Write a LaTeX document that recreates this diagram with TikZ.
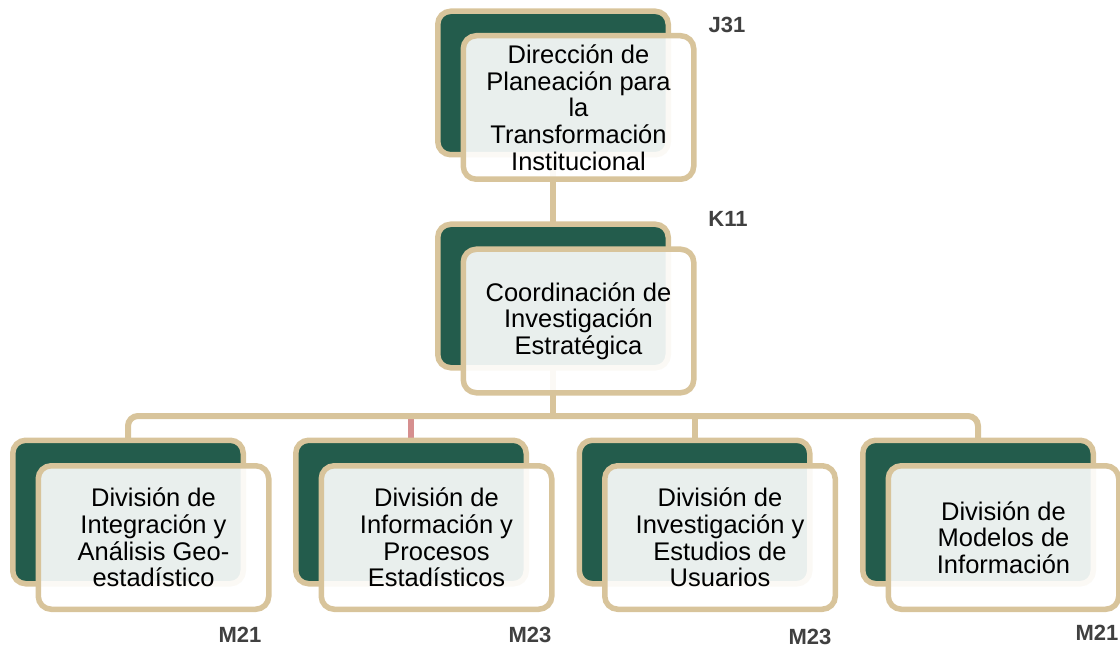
\documentclass[tikz,border=0pt]{standalone}
\usepackage{fontspec}
\setmainfont{Liberation Sans}
\definecolor{tan}{RGB}{216,196,155}
\definecolor{dgreen}{RGB}{35,92,76}
\definecolor{pinkln}{RGB}{214,143,143}
\definecolor{lblgrey}{RGB}{64,64,64}
\begin{document}
\begin{tikzpicture}[x=1pt,y=-1pt,
  backbox/.style={draw=tan,line width=5.5pt,fill=dgreen,rounded corners=13pt,
    minimum width=230.5pt,minimum height=143.5pt,inner sep=0pt},
  frontbox/.style={draw=tan,line width=5.5pt,fill=white,fill opacity=0.9,text opacity=1,
    rounded corners=13pt,minimum width=230.5pt,minimum height=143.5pt,inner sep=0pt,
    align=center,font=\fontsize{25.5}{26.7}\selectfont},
  conn/.style={draw=tan,line width=6pt},
  pinkconn/.style={draw=pinkln,line width=6pt},
  codelbl/.style={font=\bfseries\fontsize{22}{24}\selectfont,text=lblgrey,inner sep=0pt}]
\useasboundingbox (0,0) rectangle (1120,647);
% back-box anchors (named, drawn later)
\coordinate (tb) at (553,83);
\coordinate (kb) at (553,296);
\coordinate (bar) at (553,416);
\coordinate (d1c) at (128,512);
\coordinate (d2c) at (411,512);
\coordinate (d3c) at (694.5,512);
\coordinate (d4c) at (978,512);
% connectors
\draw[conn] (tb) -- (kb);
\draw[conn] (kb) -- (bar);
\draw[pinkconn] (d2c) -- (d2c |- bar);
\draw[conn] (d3c) -- (d3c |- bar);
\draw[conn,rounded corners=10pt] (d1c) |- (bar) -| (d4c);
% top unit
\node[backbox] (topb) at (tb) {};
\node[frontbox] (topf) at (578.5,107.5) {Dirección de\\Planeación para\\la\\Transformación\\Institucional};
% K11 unit
\node[backbox] (k11b) at (kb) {};
\node[frontbox] (k11f) at (578.5,321) {Coordinación de\\Investigación\\Estratégica};
% bottom units
\node[backbox] (d1b) at (d1c) {};
\node[frontbox] (d1f) at (153.5,537.5) {División de\\Integración y\\Análisis Geo-\\estadístico};
\node[backbox] (d2b) at (d2c) {};
\node[frontbox] (d2f) at (436.5,537.5) {División de\\Información y\\Procesos\\Estadísticos};
\node[backbox] (d3b) at (d3c) {};
\node[frontbox] (d3f) at (720,537.5) {División de\\Investigación y\\Estudios de\\Usuarios};
\node[backbox] (d4b) at (d4c) {};
\node[frontbox] (d4f) at (1003.5,537.5) {División de\\Modelos de\\Información};
% codes
\node[codelbl] (j31) at (727,25) {J31};
\node[codelbl] (k11) at (728,219) {K11};
\node[codelbl] (m21a) at (240,635) {M21};
\node[codelbl] (m23a) at (530,635) {M23};
\node[codelbl] (m23b) at (810,637) {M23};
\node[codelbl] (m21b) at (1097,633) {M21};
\end{tikzpicture}
\end{document}
